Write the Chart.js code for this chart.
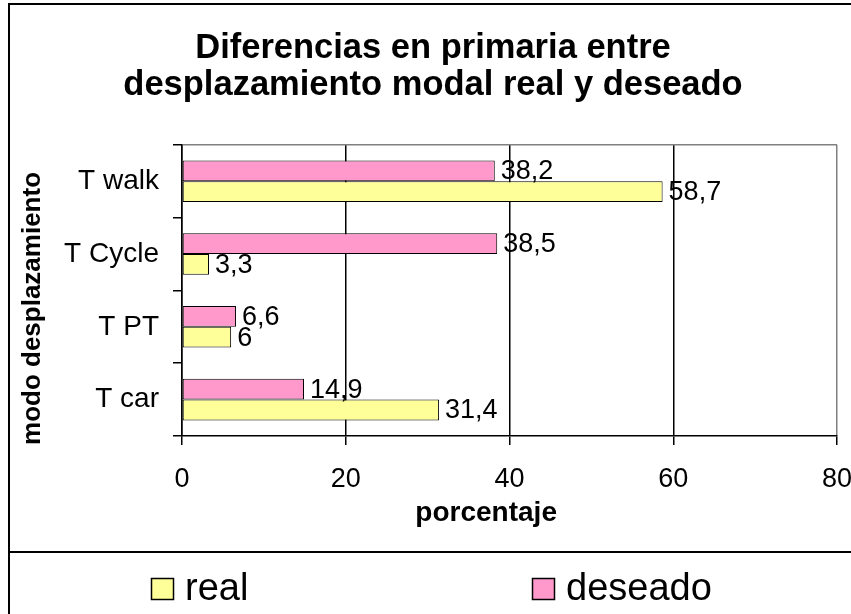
<!DOCTYPE html>
<html>
<head>
<meta charset="utf-8">
<script src="https://cdn.jsdelivr.net/npm/chart.js@4.4.1/dist/chart.umd.min.js"></script>
<style>
html,body{margin:0;padding:0;background:#fff;}
#wrap{width:851px;height:614px;position:relative;overflow:hidden;}
canvas{display:block;}
</style>
</head>
<body>
<div id="wrap"><canvas id="c" width="851" height="614"></canvas></div>
<script>
// ---- data ----
const categories = ['T walk', 'T Cycle', 'T PT', 'T car'];
const realValues = [58.7, 3.3, 6, 31.4];
const deseadoValues = [38.2, 38.5, 6.6, 14.9];
const xTickValues = [0, 20, 40, 60, 80];
const seriesNames = ['real', 'deseado'];
const titleLines = ['Diferencias en primaria entre', 'desplazamiento modal real y deseado'];
const xAxisTitle = 'porcentaje';
const yAxisTitle = 'modo desplazamiento';

// ---- styles ----
const FONT = '"Liberation Sans", Arial, Helvetica, sans-serif';
const SERIES_COLORS = { real: '#FFFF99', deseado: '#FF99CC' };

Chart.defaults.font.family = FONT;
Chart.defaults.color = '#000';

function fmt(v) { return String(v).replace('.', ','); }

const framePlugin = {
  id: 'frame',
  beforeDraw(chart) {
    const { ctx, width, height } = chart;
    ctx.save();
    ctx.fillStyle = '#fff';
    ctx.fillRect(0, 0, width, height);
    ctx.strokeStyle = '#000';
    ctx.lineWidth = 2;
    ctx.beginPath();
    ctx.moveTo(9, height);
    ctx.lineTo(9, 4);
    ctx.lineTo(width, 4);
    ctx.moveTo(9, 552);
    ctx.lineTo(width, 552);
    ctx.stroke();
    ctx.restore();
  }
};

const valueLabels = {
  id: 'valueLabels',
  afterDatasetsDraw(chart) {
    const { ctx } = chart;
    ctx.save();
    ctx.font = '27px ' + FONT;
    ctx.fillStyle = '#000';
    ctx.textAlign = 'left';
    ctx.textBaseline = 'middle';
    chart.data.datasets.forEach((ds, i) => {
      const meta = chart.getDatasetMeta(i);
      meta.data.forEach((el, j) => {
        ctx.fillText(fmt(ds.data[j]), el.x + 6, el.y + 1);
      });
    });
    ctx.restore();
  }
};

const bottomLegend = {
  id: 'bottomLegend',
  afterDraw(chart) {
    const { ctx } = chart;
    const starts = [151, 532];
    ctx.save();
    ctx.font = '38px ' + FONT;
    ctx.textAlign = 'left';
    ctx.textBaseline = 'alphabetic';
    seriesNames.forEach((name, k) => {
      const ds = chart.data.datasets.find(d => d.label === name);
      const x = starts[k];
      ctx.fillStyle = ds.backgroundColor;
      ctx.fillRect(x, 578, 22, 21);
      ctx.strokeStyle = '#000';
      ctx.lineWidth = 1.5;
      ctx.strokeRect(x + 0.5, 578.5, 22, 21);
      ctx.fillStyle = '#000';
      ctx.fillText(name, x + 34, 600);
    });
    ctx.restore();
  }
};

new Chart(document.getElementById('c'), {
  type: 'bar',
  data: {
    labels: categories,
    datasets: [
      {
        label: seriesNames[1], data: deseadoValues,
        backgroundColor: SERIES_COLORS.deseado, borderColor: '#000', borderWidth: 1,
        borderSkipped: false, categoryPercentage: 2 / 3.5, barPercentage: 1
      },
      {
        label: seriesNames[0], data: realValues,
        backgroundColor: SERIES_COLORS.real, borderColor: '#000', borderWidth: 1,
        borderSkipped: false, categoryPercentage: 2 / 3.5, barPercentage: 1
      }
    ]
  },
  options: {
    indexAxis: 'y',
    responsive: false,
    animation: false,
    devicePixelRatio: 1,
    layout: { padding: { left: 15, right: 0, top: 0, bottom: 84 } },
    plugins: {
      legend: { display: false },
      tooltip: { enabled: false },
      title: {
        display: true, text: titleLines, color: '#000',
        font: { family: FONT, size: 34.5, weight: 'bold', lineHeight: 1.07 },
        padding: { top: 30, bottom: 41 }
      }
    },
    scales: {
      x: {
        type: 'linear', position: 'bottom', min: 0, max: 80,
        afterBuildTicks(scale) { scale.ticks = xTickValues.map(v => ({ value: v })); },
        ticks: { color: '#000', font: { family: FONT, size: 27 }, padding: 18, maxRotation: 0 },
        grid: {
          color: c => (c.tick && c.tick.value === 80) ? '#808080' : '#000',
          lineWidth: 1.5, tickLength: 9, tickColor: '#000', tickWidth: 1.5, drawTicks: true
        },
        border: { color: '#000', width: 1.5 },
        title: {
          display: true, text: xAxisTitle + '      ', color: '#000',
          font: { family: FONT, size: 28, weight: 'bold' }, padding: { top: 0, bottom: 0 }
        },
        afterFit(scale) { scale.height = 94; scale.paddingRight = 14; }
      },
      y: {
        type: 'category',
        ticks: { color: '#000', font: { family: FONT, size: 28 }, padding: 14 },
        grid: {
          offset: true,
          color: c => c.index === 0 ? '#808080' : 'rgba(0,0,0,0)',
          tickColor: '#000', tickLength: 9, lineWidth: 1.5, tickWidth: 1.5
        },
        border: { color: '#000', width: 1.5 },
        title: {
          display: true, text: yAxisTitle + '     ', color: '#000',
          font: { family: FONT, size: 26, weight: 'bold' }, padding: { top: 2, bottom: 0 }
        },
        afterFit(scale) { scale.width = 167; }
      }
    }
  },
  plugins: [framePlugin, valueLabels, bottomLegend]
});
</script>
</body>
</html>
